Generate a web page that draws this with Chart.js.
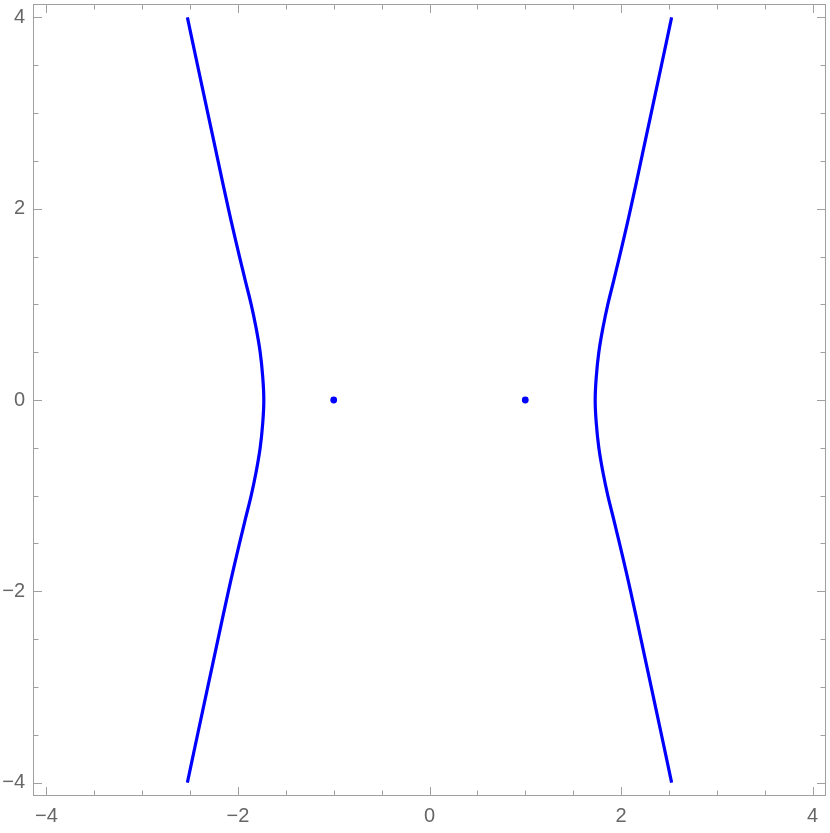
<!DOCTYPE html>
<html>
<head>
<meta charset="utf-8">
<script src="https://cdn.jsdelivr.net/npm/chart.js@4"></script>
<style>
  body { margin: 0; background: #fff; }
</style>
</head>
<body>
<canvas id="myChart" width="830" height="833"></canvas>
<script>
// Curve: y values and the x of the right branch (left branch is the mirror)
const curveY = [-4, -3.5, -3, -2.5, -2, -1.75, -1.5, -1.25, -1, -0.75, -0.5, -0.25, 0,
                0.25, 0.5, 0.75, 1, 1.25, 1.5, 1.75, 2, 2.5, 3, 3.5, 4];
const rightX = [2.528, 2.422, 2.315, 2.208, 2.100, 2.043, 1.984, 1.924, 1.862, 1.810, 1.768, 1.742, 1.730,
                1.742, 1.768, 1.810, 1.862, 1.924, 1.984, 2.043, 2.100, 2.208, 2.315, 2.422, 2.528];
const leftX = rightX.map(v => -v);

// The two dots
const dotX = [-1, 1];
const dotY = [0, 0];

// Frame ticks
const tickVals = [-4, -3.5, -3, -2.5, -2, -1.5, -1, -0.5, 0, 0.5, 1, 1.5, 2, 2.5, 3, 3.5, 4];
const axisMin = -4.14;
const axisMax = 4.14;

const blue = '#0000ff';
const frameColor = '#a0a0a0';
const labelColor = '#666666';

const toPts = (xs, ys) => xs.map((x, i) => ({x: x, y: ys[i]}));

// Mathematica style frame with inward ticks on all four sides
const framePlugin = {
  id: 'frame',
  afterDatasetsDraw(chart) {
    const {ctx, chartArea: a, scales: {x, y}} = chart;
    ctx.save();
    ctx.strokeStyle = frameColor;
    ctx.lineWidth = 1;
    ctx.strokeRect(a.left + 0.5, a.top + 0.5, a.right - a.left - 1, a.bottom - a.top - 1);
    ctx.beginPath();
    tickVals.forEach(v => {
      const len = v % 2 === 0 ? 9 : 5.5;
      const px = Math.round(x.getPixelForValue(v)) + 0.5;
      ctx.moveTo(px, a.bottom); ctx.lineTo(px, a.bottom - len);
      ctx.moveTo(px, a.top); ctx.lineTo(px, a.top + len);
      const py = Math.round(y.getPixelForValue(v)) + 0.5;
      ctx.moveTo(a.left, py); ctx.lineTo(a.left + len, py);
      ctx.moveTo(a.right, py); ctx.lineTo(a.right - len, py);
    });
    ctx.stroke();
    ctx.restore();
  }
};

const label = v => (v % 2 === 0 ? (v < 0 ? '\u2212' + Math.abs(v) : String(v)) : '');

const ctx = document.getElementById('myChart').getContext('2d');
const chart = new Chart(ctx, {
  type: 'scatter',
  data: {
    datasets: [
      {
        data: toPts(leftX, curveY),
        showLine: true,
        borderColor: blue,
        borderWidth: 3.2,
        pointRadius: 0,
        tension: 0.4
      },
      {
        data: toPts(rightX, curveY),
        showLine: true,
        borderColor: blue,
        borderWidth: 3.2,
        pointRadius: 0,
        tension: 0.4
      },
      {
        data: toPts(dotX, dotY),
        showLine: false,
        backgroundColor: blue,
        borderColor: blue,
        borderWidth: 0,
        pointRadius: 3.4
      }
    ]
  },
  options: {
    responsive: false,
    animation: false,
    layout: { padding: { top: 1, right: 3, left: 0, bottom: 0 } },
    plugins: { legend: { display: false }, tooltip: { enabled: false } },
    scales: {
      x: {
        type: 'linear',
        min: axisMin,
        max: axisMax,
        afterBuildTicks: s => { s.ticks = tickVals.map(v => ({value: v})); },
        afterFit: s => { s.height = 37; s.paddingLeft = 0; s.paddingRight = 0; },
        grid: { display: false, drawTicks: false },
        border: { display: false },
        ticks: {
          autoSkip: false,
          maxRotation: 0,
          padding: 8,
          color: labelColor,
          font: { family: 'Liberation Sans', size: 20 },
          callback: label
        }
      },
      y: {
        type: 'linear',
        min: axisMin,
        max: axisMax,
        afterBuildTicks: s => { s.ticks = tickVals.map(v => ({value: v})); },
        afterFit: s => { s.width = 33; s.paddingTop = 0; s.paddingBottom = 0; },
        grid: { display: false, drawTicks: false },
        border: { display: false },
        ticks: {
          autoSkip: false,
          padding: 8,
          color: labelColor,
          font: { family: 'Liberation Sans', size: 20 },
          callback: label
        }
      }
    }
  },
  plugins: [framePlugin]
});
</script>
</body>
</html>
